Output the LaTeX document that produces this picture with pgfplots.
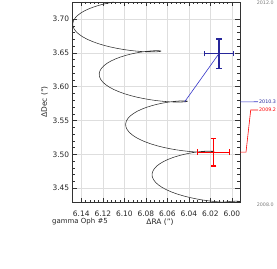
\documentclass[border=0pt]{standalone}
\usepackage{fontspec}
\setmainfont{DejaVu Sans}
\usepackage{pgfplots}
\pgfplotsset{compat=1.18}
\definecolor{navy}{HTML}{26269A}
\definecolor{midblue}{HTML}{3535C8}
\definecolor{curvecol}{HTML}{2E2E2E}
\definecolor{gridcol}{HTML}{DEDEDE}
\definecolor{timegray}{HTML}{7A7A7A}
\begin{document}
\begin{tikzpicture}
\path[use as bounding box] (-72.7bp,-66.3bp) rectangle (204.3bp,202.7bp);
\begin{axis}[
  at={(0,0)}, anchor=south west,
  scale only axis, width=167.3bp, height=200.7bp,
  x dir=reverse,
  xmin=5.9925, xmax=6.1480, ymin=3.4287, ymax=3.7251,
  xtick={6.00,6.02,6.04,6.06,6.08,6.10,6.12,6.14},
  ytick={3.45,3.50,3.55,3.60,3.65,3.70},
  minor x tick num=4, minor y tick num=4,
  grid=major,
  major grid style={draw=gridcol, line width=0.6bp},
  axis line style={draw=black!80, line width=0.6bp},
  every tick/.style={draw=black!80, line width=0.5bp},
  major tick length=4.5bp, minor tick length=2.5bp,
  tick align=inside,
  /pgf/number format/assume math mode=true,
  /pgf/number format/fixed, /pgf/number format/fixed zerofill,
  /pgf/number format/precision=2,
  ticklabel style={font=\fontsize{7.5}{9}\selectfont, text=black!85},
  xticklabel style={yshift=-4.6bp},
  clip=true,
]
\addplot[curvecol, line width=0.55bp] coordinates {
(6.01615,3.42731) (6.01149,3.42864) (6.00707,3.42964) (6.00305,3.43034) (5.99954,3.43075)
(5.99662,3.43091) (5.99440,3.43086) (5.99293,3.43067) (5.99228,3.43036)
(5.99246,3.43000) (5.99350,3.42964) (5.99539,3.42934) (5.99808,3.42914) (6.00154,3.42909)
(6.00568,3.42925) (6.01043,3.42967) (6.01567,3.43036) (6.02131,3.43136) (6.02721,3.43269)
(6.03324,3.43438) (6.03928,3.43640) (6.04517,3.43877) (6.05082,3.44147) (6.05606,3.44449)
(6.06080,3.44778) (6.06495,3.45132) (6.06840,3.45507) (6.07110,3.45898) (6.07298,3.46299)
(6.07403,3.46705) (6.07421,3.47111) (6.07355,3.47513) (6.07209,3.47903) (6.06986,3.48278)
(6.06695,3.48632) (6.06343,3.48962) (6.05941,3.49263) (6.05500,3.49533) (6.05033,3.49770)
(6.04553,3.49973) (6.04072,3.50141) (6.03606,3.50274) (6.03164,3.50374) (6.02762,3.50444)
(6.02411,3.50485) (6.02119,3.50501) (6.01897,3.50496) (6.01750,3.50477) (6.01685,3.50446)
(6.01703,3.50410) (6.01807,3.50374) (6.01996,3.50344) (6.02265,3.50324) (6.02611,3.50319)
(6.03025,3.50335) (6.03500,3.50377) (6.04024,3.50446) (6.04588,3.50546) (6.05178,3.50679)
(6.05781,3.50848) (6.06385,3.51050) (6.06974,3.51287) (6.07539,3.51557) (6.08063,3.51859)
(6.08537,3.52188) (6.08952,3.52542) (6.09297,3.52917) (6.09567,3.53308) (6.09755,3.53709)
(6.09860,3.54115) (6.09878,3.54521) (6.09812,3.54923) (6.09666,3.55313) (6.09443,3.55688)
(6.09152,3.56042) (6.08800,3.56372) (6.08398,3.56673) (6.07957,3.56943) (6.07490,3.57180)
(6.07010,3.57383) (6.06529,3.57551) (6.06063,3.57684) (6.05621,3.57784) (6.05219,3.57854)
(6.04868,3.57895) (6.04576,3.57911) (6.04354,3.57906) (6.04207,3.57887) (6.04142,3.57856)
(6.04160,3.57820) (6.04264,3.57784) (6.04453,3.57754) (6.04722,3.57734) (6.05068,3.57729)
(6.05482,3.57745) (6.05957,3.57787) (6.06481,3.57856) (6.07045,3.57956) (6.07635,3.58089)
(6.08238,3.58258) (6.08842,3.58460) (6.09431,3.58697) (6.09996,3.58967) (6.10520,3.59269)
(6.10994,3.59598) (6.11409,3.59952) (6.11754,3.60327) (6.12024,3.60718) (6.12212,3.61119)
(6.12317,3.61525) (6.12335,3.61931) (6.12269,3.62333) (6.12123,3.62723) (6.11900,3.63098)
(6.11609,3.63452) (6.11257,3.63782) (6.10855,3.64083) (6.10414,3.64353) (6.09947,3.64590)
(6.09467,3.64793) (6.08986,3.64961) (6.08520,3.65094) (6.08078,3.65194) (6.07676,3.65264)
(6.07325,3.65305) (6.07033,3.65321) (6.06811,3.65316) (6.06664,3.65297) (6.06599,3.65266)
(6.06617,3.65230) (6.06721,3.65194) (6.06910,3.65164) (6.07179,3.65144) (6.07525,3.65139)
(6.07939,3.65155) (6.08414,3.65197) (6.08938,3.65266) (6.09502,3.65366) (6.10092,3.65499)
(6.10695,3.65668) (6.11299,3.65870) (6.11888,3.66107) (6.12453,3.66377) (6.12977,3.66679)
(6.13451,3.67008) (6.13866,3.67362) (6.14211,3.67737) (6.14481,3.68128) (6.14669,3.68529)
(6.14774,3.68935) (6.14792,3.69341) (6.14726,3.69743) (6.14580,3.70133) (6.14357,3.70508)
(6.14066,3.70862) (6.13714,3.71192) (6.13312,3.71493) (6.12871,3.71763) (6.12404,3.72000)
(6.11924,3.72203) (6.11443,3.72371) (6.10977,3.72504)
};
% connection lines from measurements to predicted positions
\addplot[midblue, line width=0.6bp] coordinates {(6.01208,3.64882) (6.04400,3.57760)};
\addplot[red, line width=0.6bp] coordinates {(6.01710,3.50330) (6.01685,3.50446)};
% measurements with error bars
\addplot[navy, line width=1.3bp, mark=none,
  error bars/.cd, x dir=both, x explicit, y dir=both, y explicit,
  error bar style={line width=1.3bp, navy},
  error mark options={rotate=90, mark size=2.8bp, line width=1.3bp, navy}]
  coordinates {(6.01208,3.64882) +- (0.01356,0.02164)};
\addplot[red, line width=1.3bp, mark=none,
  error bars/.cd, x dir=both, x explicit, y dir=both, y explicit,
  error bar style={line width=1.3bp, red},
  error mark options={rotate=90, mark size=2.8bp, line width=1.3bp, red}]
  coordinates {(6.01710,3.50330) +- (0.01468,0.02050)};
\end{axis}
% labels
\node[font=\fontsize{7.5}{9}\selectfont, text=black!85] at (87.3bp,-19.3bp) {ΔRA (")};
\node[font=\fontsize{7.5}{9}\selectfont, text=black!85, rotate=90] at (-28.2bp,100.7bp) {ΔDec (")};
\node[font=\fontsize{7}{9}\selectfont, text=black!85] at (7.3bp,-18.8bp) {gamma Oph \#5};
% time labels and connectors
\node[font=\fontsize{4.8}{6}\selectfont, text=timegray, anchor=west, inner sep=0pt] at (184bp,200bp) {2012.0};
\node[font=\fontsize{4.8}{6}\selectfont, text=timegray, anchor=west, inner sep=0pt] at (184bp,-2.3bp) {2008.0};
\node[font=\fontsize{4.8}{6}\selectfont, text=navy, anchor=west, inner sep=0pt] at (186.3bp,101bp) {2010.3};
\node[font=\fontsize{4.8}{6}\selectfont, text=red, anchor=west, inner sep=0pt] at (186.3bp,92.7bp) {2009.2};
\draw[midblue, line width=0.6bp] (167.3bp,100.8bp) -- (177.3bp,100.8bp) -- (185.3bp,101bp);
\draw[red, line width=0.6bp] (167.3bp,50.5bp) -- (173.3bp,50.5bp) -- (178bp,92.7bp) -- (185.3bp,92.7bp);
\end{tikzpicture}
\end{document}
